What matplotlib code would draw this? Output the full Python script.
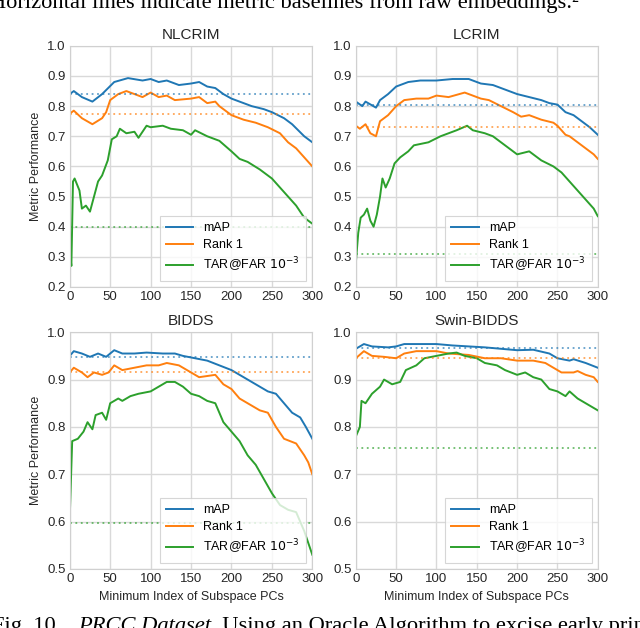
import matplotlib
matplotlib.use("Agg")
import matplotlib.pyplot as plt

plt.rcParams['font.family'] = ['Liberation Sans', 'DejaVu Sans']

# values (x = minimum index of subspace PCs)
nl_map_x = [0, 5, 15, 28, 40, 55, 72, 90, 100, 110, 120, 135, 150, 160, 170, 180, 190, 200, 215, 225, 240, 250, 265, 275, 290, 300]
nl_map_y = [0.84, 0.85, 0.83, 0.815, 0.84, 0.88, 0.893, 0.885, 0.89, 0.88, 0.885, 0.87, 0.875, 0.88, 0.865, 0.86, 0.84, 0.825, 0.81, 0.80, 0.79, 0.78, 0.76, 0.74, 0.70, 0.68]
nl_r1_x = [0, 5, 15, 28, 40, 45, 50, 60, 70, 80, 90, 100, 110, 120, 130, 150, 160, 170, 180, 185, 200, 215, 230, 245, 260, 270, 280, 290, 300]
nl_r1_y = [0.775, 0.785, 0.76, 0.74, 0.76, 0.78, 0.82, 0.84, 0.85, 0.84, 0.83, 0.845, 0.83, 0.835, 0.82, 0.825, 0.83, 0.81, 0.815, 0.80, 0.77, 0.755, 0.745, 0.73, 0.71, 0.68, 0.66, 0.63, 0.60]
nl_tar_x = [0, 2, 4, 6, 12, 15, 20, 25, 30, 35, 40, 47, 52, 58, 62, 70, 80, 85, 95, 100, 115, 125, 140, 150, 155, 170, 185, 200, 210, 220, 235, 250, 260, 270, 280, 290, 300]
nl_tar_y = [0.32, 0.27, 0.55, 0.56, 0.52, 0.46, 0.47, 0.45, 0.50, 0.55, 0.57, 0.62, 0.69, 0.70, 0.725, 0.71, 0.715, 0.695, 0.735, 0.73, 0.735, 0.725, 0.72, 0.705, 0.72, 0.70, 0.685, 0.65, 0.625, 0.615, 0.59, 0.56, 0.53, 0.50, 0.47, 0.43, 0.41]

lc_map_x = [0, 8, 12, 25, 30, 40, 50, 65, 80, 100, 120, 140, 155, 170, 185, 200, 215, 230, 240, 250, 260, 270, 280, 290, 300]
lc_map_y = [0.815, 0.80, 0.815, 0.795, 0.82, 0.84, 0.865, 0.88, 0.885, 0.885, 0.89, 0.89, 0.875, 0.87, 0.855, 0.84, 0.83, 0.82, 0.81, 0.805, 0.78, 0.77, 0.75, 0.73, 0.705]
lc_r1_x = [0, 5, 12, 18, 25, 30, 40, 50, 60, 75, 90, 100, 115, 135, 145, 155, 165, 180, 195, 205, 215, 230, 245, 250, 260, 265, 275, 285, 295, 300]
lc_r1_y = [0.735, 0.725, 0.74, 0.71, 0.70, 0.75, 0.77, 0.80, 0.82, 0.825, 0.825, 0.835, 0.83, 0.845, 0.835, 0.825, 0.82, 0.80, 0.78, 0.765, 0.77, 0.755, 0.745, 0.735, 0.705, 0.70, 0.68, 0.66, 0.64, 0.625]
lc_tar_x = [0, 3, 6, 10, 14, 18, 22, 26, 30, 33, 37, 42, 48, 55, 65, 72, 90, 105, 115, 125, 138, 145, 160, 170, 185, 200, 215, 230, 245, 255, 265, 275, 285, 295, 300]
lc_tar_y = [0.28, 0.38, 0.43, 0.44, 0.46, 0.42, 0.40, 0.44, 0.50, 0.56, 0.53, 0.56, 0.61, 0.63, 0.65, 0.67, 0.68, 0.70, 0.71, 0.72, 0.735, 0.72, 0.71, 0.70, 0.67, 0.64, 0.65, 0.62, 0.60, 0.58, 0.55, 0.52, 0.49, 0.46, 0.435]

bi_map_x = [0, 5, 15, 25, 35, 45, 55, 65, 80, 95, 115, 130, 140, 155, 170, 185, 200, 215, 230, 245, 255, 265, 275, 285, 292, 300]
bi_map_y = [0.95, 0.96, 0.955, 0.948, 0.955, 0.948, 0.962, 0.955, 0.955, 0.957, 0.955, 0.955, 0.95, 0.945, 0.94, 0.93, 0.92, 0.905, 0.89, 0.875, 0.87, 0.85, 0.83, 0.82, 0.80, 0.775]
bi_r1_x = [0, 5, 15, 22, 30, 40, 48, 55, 65, 80, 95, 110, 120, 135, 150, 160, 180, 190, 200, 210, 225, 235, 245, 255, 265, 280, 290, 295, 300]
bi_r1_y = [0.915, 0.925, 0.915, 0.905, 0.915, 0.91, 0.915, 0.93, 0.92, 0.925, 0.93, 0.93, 0.935, 0.93, 0.915, 0.905, 0.91, 0.89, 0.88, 0.86, 0.845, 0.835, 0.83, 0.80, 0.775, 0.765, 0.74, 0.725, 0.70]
bi_tar_x = [0, 3, 10, 17, 22, 28, 32, 40, 45, 50, 60, 65, 75, 85, 100, 110, 120, 130, 140, 150, 160, 170, 180, 190, 200, 210, 220, 230, 240, 250, 260, 270, 280, 290, 300]
bi_tar_y = [0.61, 0.77, 0.775, 0.79, 0.81, 0.795, 0.825, 0.83, 0.815, 0.85, 0.86, 0.855, 0.865, 0.87, 0.875, 0.885, 0.895, 0.895, 0.885, 0.87, 0.865, 0.855, 0.85, 0.81, 0.79, 0.77, 0.74, 0.72, 0.69, 0.66, 0.635, 0.625, 0.62, 0.58, 0.53]

sw_map_x = [0, 10, 20, 40, 50, 60, 80, 100, 120, 140, 160, 180, 200, 220, 240, 250, 265, 270, 285, 300]
sw_map_y = [0.965, 0.975, 0.97, 0.968, 0.97, 0.975, 0.975, 0.975, 0.972, 0.97, 0.968, 0.965, 0.962, 0.963, 0.955, 0.945, 0.94, 0.943, 0.935, 0.925]
sw_r1_x = [0, 10, 20, 35, 50, 60, 75, 100, 115, 140, 160, 180, 200, 220, 235, 245, 255, 270, 275, 285, 295, 300]
sw_r1_y = [0.945, 0.96, 0.95, 0.948, 0.945, 0.955, 0.96, 0.96, 0.955, 0.952, 0.945, 0.945, 0.94, 0.94, 0.935, 0.925, 0.915, 0.915, 0.918, 0.91, 0.905, 0.895]
sw_tar_x = [0, 5, 7, 12, 20, 30, 35, 45, 55, 62, 75, 85, 100, 115, 125, 135, 150, 160, 175, 185, 200, 210, 220, 230, 240, 250, 260, 265, 275, 285, 300]
sw_tar_y = [0.78, 0.80, 0.855, 0.85, 0.87, 0.885, 0.90, 0.89, 0.895, 0.92, 0.93, 0.945, 0.95, 0.955, 0.957, 0.95, 0.945, 0.935, 0.93, 0.92, 0.91, 0.915, 0.905, 0.90, 0.88, 0.875, 0.865, 0.875, 0.86, 0.85, 0.835]

titles = ["NLCRIM", "LCRIM", "BIDDS", "Swin-BIDDS"]
# baselines from raw embeddings: mAP, Rank 1, TAR@FAR
baselines = [
    [0.84, 0.775, 0.40],
    [0.805, 0.73, 0.31],
    [0.948, 0.917, 0.597],
    [0.967, 0.945, 0.755],
]
curves = [
    [(nl_map_x, nl_map_y), (nl_r1_x, nl_r1_y), (nl_tar_x, nl_tar_y)],
    [(lc_map_x, lc_map_y), (lc_r1_x, lc_r1_y), (lc_tar_x, lc_tar_y)],
    [(bi_map_x, bi_map_y), (bi_r1_x, bi_r1_y), (bi_tar_x, bi_tar_y)],
    [(sw_map_x, sw_map_y), (sw_r1_x, sw_r1_y), (sw_tar_x, sw_tar_y)],
]
labels = ["mAP", "Rank 1", "TAR@FAR $10^{-3}$"]
colors = ["#1f77b4", "#ff7f0e", "#2ca02c"]
ylims = [(0.2, 1.0), (0.2, 1.0), (0.5, 1.0), (0.5, 1.0)]

fig = plt.figure(figsize=(6.4, 6.28), dpi=100)
positions = [
    [0.109, 0.543, 0.379, 0.384],
    [0.556, 0.543, 0.378, 0.384],
    [0.109, 0.094, 0.379, 0.377],
    [0.556, 0.094, 0.378, 0.377],
]

for i in range(4):
    ax = fig.add_axes(positions[i])
    ax.set_facecolor("white")
    for j in range(3):
        xs, ys = curves[i][j]
        ax.plot(xs, ys, color=colors[j], lw=1.4, label=labels[j])
    for j in range(3):
        ax.axhline(baselines[i][j], color=colors[j], lw=1.3, ls=(0, (1, 2)), alpha=0.7)
    ax.set_xlim(0, 300)
    ax.set_ylim(*ylims[i])
    ax.set_xticks([0, 50, 100, 150, 200, 250, 300])
    ax.grid(True, color="#d9d9d9", lw=1.0)
    ax.set_axisbelow(True)
    for s in ax.spines.values():
        s.set_color("#d0d0d0")
    ax.tick_params(length=0, labelsize=9.5, colors="#262626", pad=3)
    ax.set_title(titles[i], fontsize=11, pad=5, color="#262626")
    if i % 2 == 0:
        ax.set_ylabel("Metric Performance", fontsize=9, color="#262626")
    if i >= 2:
        ax.set_xlabel("Minimum Index of Subspace PCs", fontsize=9, color="#262626")
    leg = ax.legend(loc="lower right", fontsize=9, frameon=True, fancybox=False,
                    handlelength=2.2, borderpad=0.5, labelspacing=0.4)
    leg.get_frame().set_edgecolor("#cccccc")
    leg.get_frame().set_linewidth(0.8)

# caption text of the page, cut by the crop at top and bottom
W, H = 640.0, 628.0
cap = dict(family="Liberation Serif", fontsize=16.2, va="baseline", ha="left")
renderer = fig.canvas.get_renderer()


def width_px(s, **kw):
    # measure with a guard character so trailing spaces count
    t1 = fig.text(0, 0, s + "|", **kw)
    t2 = fig.text(0, 0, "|", **kw)
    w = t1.get_window_extent(renderer).width - t2.get_window_extent(renderer).width
    t1.remove()
    t2.remove()
    return w


# top line, mostly cut off by the page crop
x0 = 92 - width_px("Horizontal ", **cap)
fig.text(x0 / W, 1 - 8.0 / H, "Horizontal lines indicate metric baselines from raw embeddings.\u00b2", **cap)

# bottom line: italic part starts near x=78 px, baseline just below the edge
yb = -3.0 / H
xf = 78 - width_px("Fig. 10.   ", **cap)
fig.text(xf / W, yb, "Fig. 10.   ", **cap)
it = dict(cap, style="italic")
fig.text(78 / W, yb, "PRCC Dataset", **it)
xr = 78 + width_px("PRCC Dataset", **it)
fig.text(xr / W, yb, ". Using an Oracle Algorithm to excise early principal", **cap)

fig.savefig("out.png", dpi=100)
